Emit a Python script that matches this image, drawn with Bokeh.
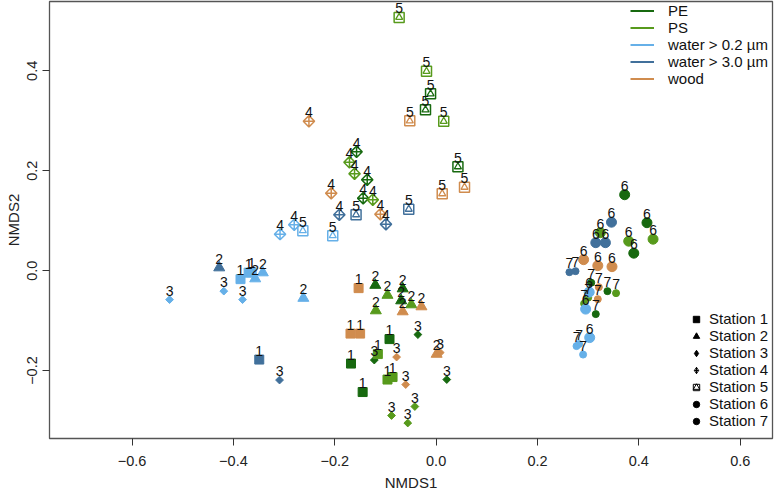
import math
from bokeh.plotting import figure
from bokeh.models import ColumnDataSource, FixedTicker, Legend, LegendItem, Range1d, CustomJSTickFormatter
from bokeh.core.properties import value
from bokeh.embed import file_html
from bokeh.resources import INLINE

# ---------------- data ----------------
materials = ["PE", "PS", "water > 0.2 \u00b5m", "water > 3.0 \u00b5m", "wood"]
colors = ["#17690f", "#579a1c", "#66b0e8", "#41709b", "#d08c4e"]
station_names = ["Station 1", "Station 2", "Station 3", "Station 4", "Station 5", "Station 6", "Station 7"]

pe_station = [5, 5, 5, 4, 4, 4, 2, 2, 2, 3, 3, 3, 1, 1, 1, 6, 6, 6, 7, 7, 7]
pe_x = [-0.011, -0.021, 0.043, -0.157, -0.136, -0.144, -0.120, -0.066, -0.069, -0.036, -0.122, 0.021,
        -0.092, -0.168, -0.145, 0.372, 0.416, 0.390, 0.306, 0.338, 0.315]
pe_y = [0.354, 0.322, 0.208, 0.238, 0.182, 0.145, -0.029, -0.036, -0.060, -0.128, -0.179, -0.218,
        -0.137, -0.186, -0.243, 0.152, 0.096, 0.035, -0.024, -0.041, -0.087]

ps_station = [5, 5, 5, 4, 4, 4, 2, 2, 2, 1, 1, 1, 3, 3, 3, 6, 6, 6, 7, 7, 7]
ps_x = [-0.073, -0.019, 0.015, -0.171, -0.161, -0.125, -0.096, -0.119, -0.049, -0.115, -0.096, -0.086,
        -0.042, -0.088, -0.056, 0.324, 0.428, 0.380, 0.355, 0.300, 0.292]
ps_y = [0.507, 0.399, 0.299, 0.217, 0.194, 0.142, -0.049, -0.080, -0.068, -0.167, -0.218, -0.213,
        -0.272, -0.290, -0.305, 0.076, 0.063, 0.059, -0.045, -0.054, -0.066]

w02_station = [4, 4, 5, 5, 2, 2, 2, 1, 1, 1, 3, 3, 3, 6, 6, 6, 7, 7, 7]
w02_x = [-0.308, -0.280, -0.263, -0.204, -0.357, -0.342, -0.262, -0.386, -0.370, -0.364,
         -0.419, -0.526, -0.382, 0.302, 0.295, 0.303, 0.277, 0.282, 0.290]
w02_y = [0.073, 0.092, 0.080, 0.070, -0.016, -0.004, -0.055, -0.017, -0.004, -0.003,
         -0.041, -0.058, -0.058, -0.043, -0.077, -0.134, -0.151, -0.147, -0.168]

w30_station = [4, 4, 5, 5, 2, 1, 3, 6, 6, 6, 7, 7]
w30_x = [-0.191, -0.099, -0.158, -0.054, -0.428, -0.349, -0.309, 0.346, 0.315, 0.334, 0.263, 0.275]
w30_y = [0.112, 0.093, 0.112, 0.123, 0.006, -0.178, -0.219, 0.097, 0.056, 0.056, -0.003, -0.001]

wood_station = [4, 4, 4, 5, 5, 5, 1, 1, 1, 2, 2, 2, 3, 3, 3, 6, 6, 6, 7, 7]
wood_x = [-0.251, -0.207, -0.110, -0.052, 0.056, 0.012, -0.153, -0.169, -0.150, -0.066, -0.029, 0.001,
          -0.078, 0.008, -0.060, 0.291, 0.319, 0.347, 0.321, 0.319]
wood_y = [0.299, 0.155, 0.113, 0.300, 0.167, 0.154, -0.035, -0.126, -0.126, -0.082, -0.072, -0.167,
          -0.173, -0.164, -0.228, 0.022, 0.010, 0.008, -0.033, -0.057]

x_ticks = [-0.6, -0.4, -0.2, 0.0, 0.2, 0.4, 0.6]
y_ticks = [-0.2, 0.0, 0.2, 0.4]

# ---------------- styling maps ----------------
FONT = "Liberation Sans"
NAN = float("nan")
Q = math.pi / 4
filled_marker = {1: "square", 2: "triangle", 3: "square", 6: "circle", 7: "circle"}
filled_size = {1: 9, 2: 11, 3: 5.5, 6: 10, 7: 7}
filled_angle = {1: 0.0, 2: 0.0, 3: Q, 6: 0.0, 7: 0.0}

groups = [(pe_station, pe_x, pe_y), (ps_station, ps_x, ps_y), (w02_station, w02_x, w02_y),
          (w30_station, w30_x, w30_y), (wood_station, wood_x, wood_y)]

filled = dict(x=[], y=[], c=[], m=[], s=[], a=[])
st4 = dict(x=[], y=[], c=[])
st5 = dict(x=[], y=[], c=[])
lab = dict(x=[], y=[], t=[])
for (st, xs, ys), col in zip(groups, colors):
    for s, x, y in zip(st, xs, ys):
        if s == 4:
            d = st4
        elif s == 5:
            d = st5
        else:
            d = filled
            d["m"].append(filled_marker[s])
            d["s"].append(filled_size[s])
            d["a"].append(filled_angle[s])
        d["x"].append(x); d["y"].append(y); d["c"].append(col)
        lab["x"].append(x); lab["y"].append(y); lab["t"].append(str(s))

p = figure(width=775, height=494, output_backend="svg", toolbar_location=None,
           x_range=Range1d(-0.7629, 0.6637), y_range=Range1d(-0.3360, 0.5388),
           min_border_left=49, min_border_right=3, min_border_top=1, min_border_bottom=56)
p.xgrid.visible = False
p.ygrid.visible = False
p.outline_line_color = "#555555"
p.outline_line_width = 1.3

p.scatter("x", "y", source=ColumnDataSource(filled), marker="m", size="s", angle="a",
          fill_color="c", line_color="c")
p.scatter("x", "y", source=ColumnDataSource(st4), marker="square_x", size=8, angle=Q,
          fill_alpha=0, line_color="c", line_width=1.5)
src5 = ColumnDataSource(st5)
p.scatter("x", "y", source=src5, marker="square", size=10,
          fill_alpha=0, line_color="c", line_width=1.5)
p.scatter("x", "y", source=src5, marker="triangle", size=7,
          fill_alpha=0, line_color="c", line_width=1.3)
p.text("x", "y", text="t", source=ColumnDataSource(lab), text_font=value(FONT),
       text_font_size="14px", text_align="center", text_baseline="bottom",
       y_offset=-4, text_color="#111111")

fmt = CustomJSTickFormatter(code="return (tick < 0 ? '\\u2212' : '') + Math.abs(tick).toFixed(1);")
for ax, ticks in ((p.xaxis, x_ticks), (p.yaxis, y_ticks)):
    ax.ticker = FixedTicker(ticks=ticks)
    ax.formatter = fmt
    ax.minor_tick_line_color = None
    ax.axis_line_color = None
    ax.major_tick_out = 7
    ax.major_tick_in = 0
    ax.major_tick_line_color = "#333333"
    ax.major_label_text_font = FONT
    ax.major_label_text_font_size = "14.5px"
    ax.major_label_text_color = "#222222"
    ax.axis_label_text_font = FONT
    ax.axis_label_text_font_size = "15px"
    ax.axis_label_text_font_style = "normal"
    ax.axis_label_text_color = "#222222"
p.xaxis.axis_label = "NMDS1"
p.yaxis.axis_label = "NMDS2"
p.xaxis.major_label_standoff = 10
p.xaxis.axis_label_standoff = 5
p.yaxis.major_label_standoff = 5
p.yaxis.axis_label_standoff = 3
p.yaxis.major_label_orientation = "parallel"

# legends (dummy renderers hold one NaN point so the legend glyph is drawn)
col_items = []
for name, col in zip(materials, colors):
    r = p.line(x=[NAN], y=[NAN], line_color=col, line_width=2)
    col_items.append(LegendItem(label=name, renderers=[r]))
leg1 = Legend(items=col_items, location=(581, 351), padding=0, margin=0, spacing=0,
              glyph_width=24, glyph_height=17, label_height=17, label_standoff=14,
              label_text_font=FONT, label_text_font_size="15px", label_text_color="#111111",
              border_line_alpha=0, background_fill_alpha=0)
p.add_layout(leg1)

st_items = []
shapes = [("square", 1), ("triangle", 1), ("diamond", 1), ("diamond_cross", 0),
          (None, 0), ("circle", 1), ("circle", 1)]
for name, (mk, fill) in zip(station_names, shapes):
    if mk is None:
        r1 = p.scatter(x=[NAN], y=[NAN], marker="square", fill_alpha=0, line_color="black", line_width=1)
        r2 = p.scatter(x=[NAN], y=[NAN], marker="triangle", fill_alpha=0, line_color="black", line_width=1)
        rs = [r1, r2]
    else:
        rs = [p.scatter(x=[NAN], y=[NAN], marker=mk, fill_color="black", fill_alpha=fill,
                        line_color="black", line_width=1)]
    st_items.append(LegendItem(label=name, renderers=rs))
leg2 = Legend(items=st_items, location=(639, 9), padding=0, margin=0, spacing=0,
              glyph_width=16, glyph_height=16, label_height=16, label_standoff=5,
              label_text_font=FONT, label_text_font_size="15px", label_text_color="#111111",
              border_line_alpha=0, background_fill_alpha=0)
p.add_layout(leg2)

open("out.html", "w").write(file_html(p, INLINE))
